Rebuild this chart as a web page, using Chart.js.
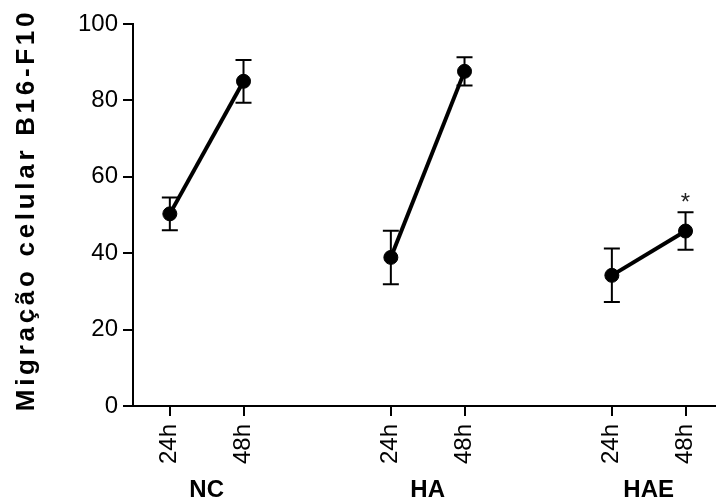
<!DOCTYPE html>
<html>
<head>
<meta charset="utf-8">
<script src="https://cdn.jsdelivr.net/npm/chart.js@4"></script>
<style>
  html, body { margin: 0; padding: 0; background: #fff; overflow: hidden; }
  canvas { display: block; }
</style>
</head>
<body>
<canvas id="migration" width="723" height="501"></canvas>
<script>
// Chart data
const groups = ['NC', 'HA', 'HAE'];          // treatment groups
const times = ['24h', '48h'];                // time points in each group
const means = [[50.3, 85.0], [38.9, 87.6], [34.2, 45.8]];   // mean migration
const errs = [[4.3, 5.6], [7.0, 3.7], [7.0, 4.9]];          // error bar half-widths
const signif = [['', ''], ['', ''], ['', '*']];            // significance marks
const yTicks = [0, 20, 40, 60, 80, 100];
const yTitle = 'Migração celular B16-F10';

const FONT = "'Liberation Sans', Arial, sans-serif";
Chart.defaults.font.family = FONT;
Chart.defaults.color = '#000';

// x position of a point: groups separated by one empty slot
const xOf = (g, t) => g * (times.length + 1) + t + 1;

const tickPos = [];
const tickText = {};
groups.forEach((g, gi) => times.forEach((t, ti) => {
    tickPos.push(xOf(gi, ti));
    tickText[xOf(gi, ti)] = t;
}));

const datasets = groups.map((g, gi) => ({
    label: g,
    data: times.map((t, ti) => ({ x: xOf(gi, ti), y: means[gi][ti], e: errs[gi][ti], s: signif[gi][ti] })),
    borderColor: '#000',
    borderWidth: 4,
    backgroundColor: '#000',
    pointRadius: 7,
    pointBorderWidth: 1,
    pointBackgroundColor: '#000',
    pointBorderColor: '#000',
    tension: 0
}));

// error bars, drawn under the points
const errorBars = {
    id: 'errorBars',
    beforeDatasetsDraw(chart) {
        const { ctx, scales: { x, y } } = chart;
        ctx.save();
        ctx.strokeStyle = '#000';
        ctx.lineWidth = 2;
        chart.data.datasets.forEach(ds => ds.data.forEach(p => {
            const px = x.getPixelForValue(p.x);
            const top = y.getPixelForValue(p.y + p.e);
            const bot = y.getPixelForValue(p.y - p.e);
            ctx.beginPath();
            ctx.moveTo(px, top); ctx.lineTo(px, bot);
            ctx.moveTo(px - 8, top); ctx.lineTo(px + 8, top);
            ctx.moveTo(px - 8, bot); ctx.lineTo(px + 8, bot);
            ctx.stroke();
        }));
        ctx.restore();
    }
};

// group names, asterisks and the y title
const extras = {
    id: 'extras',
    afterDraw(chart) {
        const { ctx, scales: { x, y } } = chart;
        ctx.save();
        ctx.fillStyle = '#000';
        ctx.textAlign = 'center';

        ctx.font = 'bold 24px ' + FONT;
        ctx.textBaseline = 'middle';
        groups.forEach((g, gi) => {
            const mid = (x.getPixelForValue(xOf(gi, 0)) + x.getPixelForValue(xOf(gi, times.length - 1))) / 2;
            ctx.fillText(g, mid, 490);
        });

        ctx.font = '24px ' + FONT;
        ctx.textBaseline = 'alphabetic';
        ctx.fillStyle = '#222';
        chart.data.datasets.forEach(ds => ds.data.forEach(p => {
            if (!p.s) return;
            ctx.fillText(p.s, x.getPixelForValue(p.x), y.getPixelForValue(p.y + p.e) - 2);
        }));

        ctx.fillStyle = '#000';
        ctx.translate(27, 212);
        ctx.rotate(-Math.PI / 2);
        ctx.font = 'bold 26px ' + FONT;
        ctx.letterSpacing = '3.7px';
        ctx.textBaseline = 'middle';
        ctx.fillText(yTitle, 2, 0);
        ctx.restore();
    }
};

new Chart(document.getElementById('migration'), {
    type: 'line',
    data: { datasets },
    options: {
        responsive: false,
        animation: false,
        devicePixelRatio: 1,
        layout: { padding: { top: 24, right: 0, left: 0, bottom: 0 } },
        plugins: { legend: { display: false }, tooltip: { enabled: false } },
        scales: {
            x: {
                type: 'linear',
                min: 0.5,
                max: 8.4,
                afterBuildTicks: axis => { axis.ticks = tickPos.map(v => ({ value: v })); },
                afterFit: axis => { axis.height = 95; },
                ticks: {
                    autoSkip: false,
                    minRotation: 90,
                    maxRotation: 90,
                    padding: 8,
                    font: { size: 24 },
                    callback: v => tickText[v] || ''
                },
                grid: { drawOnChartArea: false, tickLength: 10, color: '#000', lineWidth: 2 },
                border: { color: '#000', width: 2 }
            },
            y: {
                min: 0,
                max: 100,
                afterBuildTicks: axis => { axis.ticks = yTicks.map(v => ({ value: v })); },
                afterFit: axis => { axis.width = 133; },
                ticks: { padding: 5, font: { size: 24 } },
                grid: { drawOnChartArea: false, tickLength: 10, color: '#000', lineWidth: 2 },
                border: { color: '#000', width: 2 }
            }
        }
    },
    plugins: [errorBars, extras]
});
</script>
</body>
</html>
